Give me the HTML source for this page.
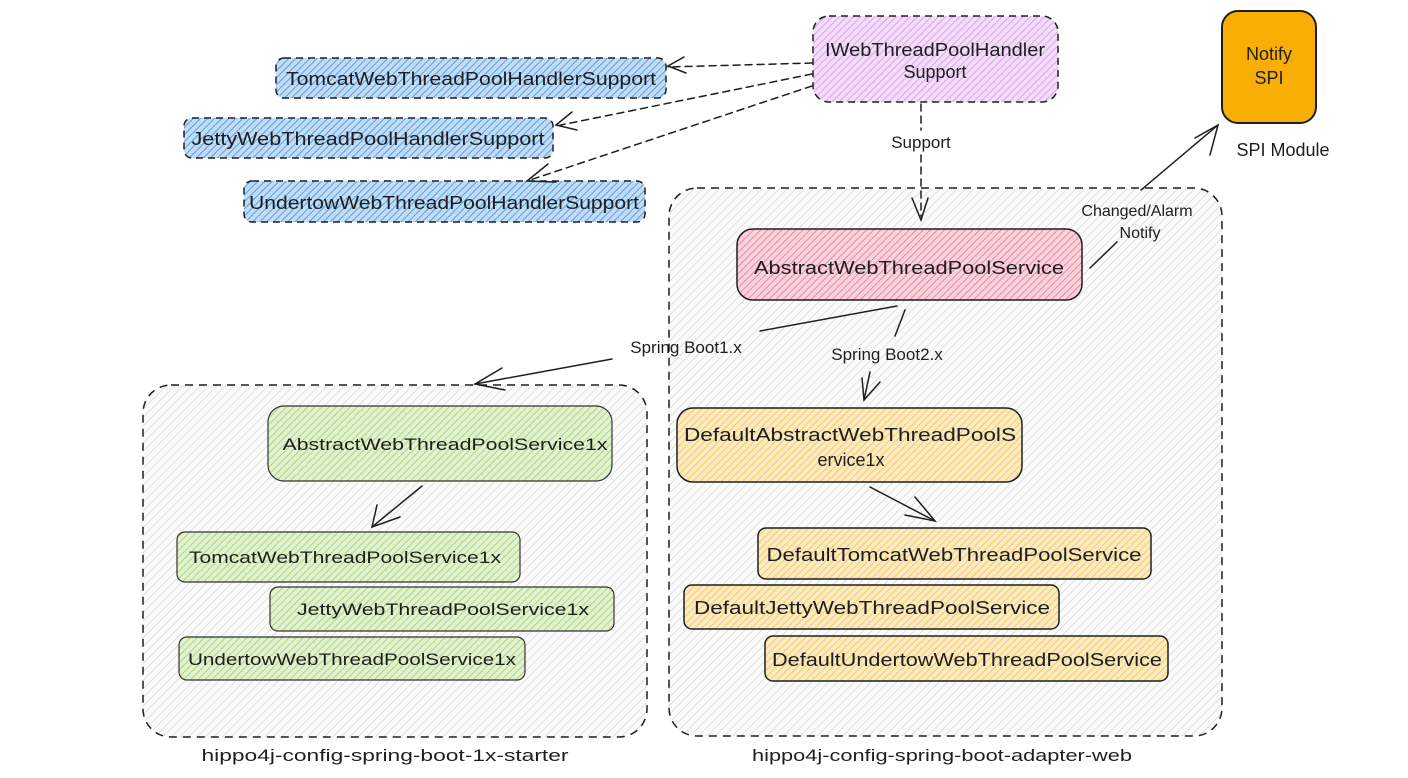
<!DOCTYPE html>
<html><head><meta charset="utf-8"><style>
html,body{margin:0;padding:0;background:#fff;}
svg{display:block;}
text{font-family:"Liberation Sans",sans-serif;fill:#1e1e1e;}
</style></head><body>
<svg width="1408" height="778" viewBox="0 0 1408 778" xmlns="http://www.w3.org/2000/svg">
<defs>
<pattern id="hg" width="6" height="6" patternUnits="userSpaceOnUse" patternTransform="rotate(45)"><rect width="6" height="6" fill="#fbfbfb"/><line x1="0" y1="0" x2="0" y2="6" stroke="#cfcfcf" stroke-width="1.2"/></pattern>
<pattern id="hb" width="5" height="5" patternUnits="userSpaceOnUse" patternTransform="rotate(45)"><rect width="5" height="5" fill="#c3dcf5"/><line x1="0" y1="0" x2="0" y2="5" stroke="#4a9ae6" stroke-width="1.8"/></pattern>
<pattern id="hp" width="5" height="5" patternUnits="userSpaceOnUse" patternTransform="rotate(45)"><rect width="5" height="5" fill="#f3ddf8"/><line x1="0" y1="0" x2="0" y2="5" stroke="#d591ec" stroke-width="1.5"/></pattern>
<pattern id="hr" width="5" height="5" patternUnits="userSpaceOnUse" patternTransform="rotate(45)"><rect width="5" height="5" fill="#f8d3dc"/><line x1="0" y1="0" x2="0" y2="5" stroke="#e6708e" stroke-width="1.5"/></pattern>
<pattern id="hgr" width="5" height="5" patternUnits="userSpaceOnUse" patternTransform="rotate(45)"><rect width="5" height="5" fill="#e2f1cf"/><line x1="0" y1="0" x2="0" y2="5" stroke="#9ccd6a" stroke-width="1.5"/></pattern>
<pattern id="hy" width="5" height="5" patternUnits="userSpaceOnUse" patternTransform="rotate(45)"><rect width="5" height="5" fill="#fbeac2"/><line x1="0" y1="0" x2="0" y2="5" stroke="#f2c24a" stroke-width="1.5"/></pattern>
</defs>

<!-- containers -->
<rect x="143" y="385" width="504" height="352" rx="28" fill="url(#hg)" stroke="#1e1e1e" stroke-width="1.5" stroke-dasharray="8 6"/>
<rect x="669" y="188" width="553" height="548" rx="28" fill="url(#hg)" stroke="#1e1e1e" stroke-width="1.5" stroke-dasharray="8 6"/>
<text x="385" y="761" font-size="17" text-anchor="middle" textLength="367" lengthAdjust="spacingAndGlyphs">hippo4j-config-spring-boot-1x-starter</text>
<text x="942" y="761" font-size="17" text-anchor="middle" textLength="380" lengthAdjust="spacingAndGlyphs">hippo4j-config-spring-boot-adapter-web</text>

<!-- handler boxes -->
<g stroke="#1e1e1e" stroke-width="1.5" stroke-dasharray="7 5">
<rect x="276" y="58" width="390" height="40" rx="8" fill="url(#hb)"/>
<rect x="184" y="118" width="369" height="40" rx="8" fill="url(#hb)"/>
<rect x="244" y="181" width="401" height="41" rx="8" fill="url(#hb)"/>
<rect x="813" y="16" width="245" height="86" rx="16" fill="url(#hp)"/>
</g>
<g font-size="18">
<text x="471" y="85" text-anchor="middle" textLength="370" lengthAdjust="spacingAndGlyphs">TomcatWebThreadPoolHandlerSupport</text>
<text x="368" y="145" text-anchor="middle" textLength="353" lengthAdjust="spacingAndGlyphs">JettyWebThreadPoolHandlerSupport</text>
<text x="444" y="209" text-anchor="middle" textLength="390" lengthAdjust="spacingAndGlyphs">UndertowWebThreadPoolHandlerSupport</text>
<text x="935" y="56" text-anchor="middle" textLength="220" lengthAdjust="spacingAndGlyphs">IWebThreadPoolHandler</text>
<text x="935" y="78" text-anchor="middle">Support</text>
</g>

<!-- Notify SPI -->
<rect x="1222" y="11" width="94" height="112" rx="16" fill="#f9ae06" stroke="#1e1e1e" stroke-width="2"/>
<text x="1269" y="60" font-size="18" text-anchor="middle">Notify</text>
<text x="1269" y="84" font-size="18" text-anchor="middle">SPI</text>
<text x="1283" y="156" font-size="18" text-anchor="middle">SPI Module</text>

<!-- abstract -->
<rect x="737" y="229" width="345" height="71" rx="16" fill="url(#hr)" stroke="#1e1e1e" stroke-width="1.5"/>
<text x="909" y="274" font-size="18" text-anchor="middle" textLength="310" lengthAdjust="spacingAndGlyphs">AbstractWebThreadPoolService</text>

<!-- green -->
<g stroke="#333" stroke-width="1.2">
<rect x="268" y="406" width="344" height="75" rx="16" fill="url(#hgr)"/>
<rect x="177" y="532" width="343" height="50" rx="8" fill="url(#hgr)"/>
<rect x="270" y="587" width="344" height="44" rx="8" fill="url(#hgr)"/>
<rect x="179" y="637" width="346" height="43" rx="8" fill="url(#hgr)"/>
</g>
<g font-size="17">
<text x="445" y="450" text-anchor="middle" textLength="325" lengthAdjust="spacingAndGlyphs">AbstractWebThreadPoolService1x</text>
<text x="345" y="563" text-anchor="middle" textLength="312" lengthAdjust="spacingAndGlyphs">TomcatWebThreadPoolService1x</text>
<text x="443" y="615" text-anchor="middle" textLength="292" lengthAdjust="spacingAndGlyphs">JettyWebThreadPoolService1x</text>
<text x="352" y="665" text-anchor="middle" textLength="328" lengthAdjust="spacingAndGlyphs">UndertowWebThreadPoolService1x</text>
</g>

<!-- yellow -->
<g stroke="#1e1e1e" stroke-width="1.5">
<rect x="677" y="408" width="345" height="74" rx="16" fill="url(#hy)"/>
<rect x="758" y="528" width="393" height="51" rx="8" fill="url(#hy)"/>
<rect x="684" y="585" width="375" height="44" rx="8" fill="url(#hy)"/>
<rect x="765" y="636" width="403" height="45" rx="8" fill="url(#hy)"/>
</g>
<g font-size="18">
<text x="850" y="441" text-anchor="middle" textLength="332" lengthAdjust="spacingAndGlyphs">DefaultAbstractWebThreadPoolS</text>
<text x="851" y="466" text-anchor="middle">ervice1x</text>
<text x="954" y="561" text-anchor="middle" textLength="375" lengthAdjust="spacingAndGlyphs">DefaultTomcatWebThreadPoolService</text>
<text x="872" y="614" text-anchor="middle" textLength="356" lengthAdjust="spacingAndGlyphs">DefaultJettyWebThreadPoolService</text>
<text x="967" y="666" text-anchor="middle" textLength="390" lengthAdjust="spacingAndGlyphs">DefaultUndertowWebThreadPoolService</text>
</g>

<!-- connectors -->
<g fill="none" stroke="#1e1e1e" stroke-width="1.5" stroke-linecap="round">
<g stroke-dasharray="7 5">
<path d="M812 63 L668 67"/>
<path d="M812 74 L556 126"/>
<path d="M812 86 L527 181"/>
<path d="M921 104 L921 130"/>
<path d="M921 155 L921 216"/>
</g>
<path d="M684 57 L668 66 L686 73"/>
<path d="M572 112 L556 125 L577 130"/>
<path d="M548 164 L527 181 L556 182"/>
<path d="M912 198 L921 220 L928 198"/>
<!-- SPI arrow -->
<path d="M1090 268 L1117 242"/>
<path d="M1141 190 L1218 125"/>
<path d="M1195 138 L1218 125 L1210 155"/>
<!-- Spring Boot1.x -->
<path d="M897 306 L760 331"/>
<path d="M612 359 L475 384"/>
<path d="M502 368 L475 384 L505 390"/>
<!-- Spring Boot2.x -->
<path d="M905 310 L895 336"/>
<path d="M870 372 L864 400"/>
<path d="M862 378 L864 400 L880 382"/>
<!-- green arrow -->
<path d="M422 486 L372 527"/>
<path d="M377 505 L372 527 L400 517"/>
<!-- yellow arrow -->
<path d="M870 487 L935 521"/>
<path d="M905 515 L935 521 L915 497"/>
</g>
<text x="921" y="148" font-size="17" text-anchor="middle">Support</text>
<text x="1137" y="216" font-size="16" text-anchor="middle">Changed/Alarm</text>
<text x="1140" y="238" font-size="16" text-anchor="middle">Notify</text>
<text x="686" y="353" font-size="17" text-anchor="middle">Spring Boot1.x</text>
<text x="887" y="360" font-size="17" text-anchor="middle">Spring Boot2.x</text>
</svg>
</body></html>
